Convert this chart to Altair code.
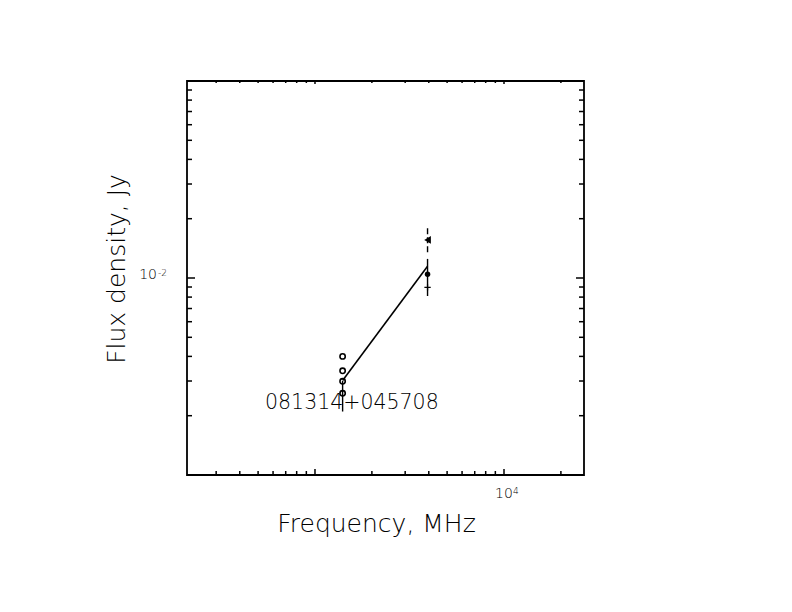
import altair as alt
import pandas as pd

# ---- data ----
open_freq = [1400, 1400, 1400, 1400]
open_flux = [0.0040, 0.00338, 0.00299, 0.0026]

tri_freq = [3940]
tri_flux = [0.0156]
dot_freq = [3940]
dot_flux = [0.01044]
plus_freq = [3940]
plus_flux = [0.00897]

err_solid_freq = [1400, 3940]
err_solid_lo = [0.0021, 0.0081]
err_solid_hi = [0.0030, 0.0125]
err_dash_freq = [3940]
err_dash_lo = [0.0135]
err_dash_hi = [0.0179]

fit_freq = [1400, 3940]
fit_flux = [0.00302, 0.01147]

x_minor = [300, 400, 500, 600, 700, 800, 900, 2000, 3000, 4000, 5000, 6000, 7000, 8000, 9000, 20000]
x_major = [1000, 10000]
y_minor = [0.002, 0.003, 0.004, 0.005, 0.006, 0.007, 0.008, 0.009,
           0.02, 0.03, 0.04, 0.05, 0.06, 0.07, 0.08, 0.09]
y_major = [0.01]

source_name = "081314+045708"
x_title = "Frequency, MHz"
y_title = "Flux density, Jy"

W, H = 397, 394
FONT = "DejaVu Sans"
FW = 200

xs = alt.Scale(type="log", domain=[210.3, 26500], nice=False)
ys = alt.Scale(type="log", domain=[0.001, 0.1], nice=False)

X = lambda f: alt.X(f, type="quantitative", scale=xs, axis=None)
Y = lambda f: alt.Y(f, type="quantitative", scale=ys, axis=None)

df_open = pd.DataFrame({"f": open_freq, "s": open_flux})
df_tri = pd.DataFrame({"f": tri_freq, "s": tri_flux})
df_dot = pd.DataFrame({"f": dot_freq, "s": dot_flux})
df_plus = pd.DataFrame({"f": plus_freq, "s": plus_flux})
df_es = pd.DataFrame({"f": err_solid_freq, "lo": err_solid_lo, "hi": err_solid_hi})
df_ed = pd.DataFrame({"f": err_dash_freq, "lo": err_dash_lo, "hi": err_dash_hi})
df_fit = pd.DataFrame({"f": fit_freq, "s": fit_flux})
df_xmin = pd.DataFrame({"v": x_minor})
df_xmaj = pd.DataFrame({"v": x_major})
df_ymin = pd.DataFrame({"v": y_minor})
df_ymaj = pd.DataFrame({"v": y_major})
one = pd.DataFrame({"a": [0]})

layers = []

# frame
layers.append(alt.Chart(one).mark_rect(fill=None, stroke="black", strokeWidth=1.8).encode(
    x=alt.value(0), x2=alt.value(W), y=alt.value(0), y2=alt.value(H)))

# ticks (inside, all four sides)
def xticks(df, blen, tlen):
    return [
        alt.Chart(df).mark_rule(color="black", strokeWidth=1.5).encode(
            x=X("v"), y=alt.value(H), y2=alt.value(H - blen)),
        alt.Chart(df).mark_rule(color="black", strokeWidth=1.5).encode(
            x=X("v"), y=alt.value(0), y2=alt.value(tlen)),
    ]

def yticks(df, llen, rlen):
    return [
        alt.Chart(df).mark_rule(color="black", strokeWidth=1.5).encode(
            y=Y("v"), x=alt.value(0), x2=alt.value(llen)),
        alt.Chart(df).mark_rule(color="black", strokeWidth=1.5).encode(
            y=Y("v"), x=alt.value(W), x2=alt.value(W - rlen)),
    ]

layers += xticks(df_xmin, 4, 2)
layers += xticks(df_xmaj, 6, 3)
layers += yticks(df_ymin, 5, 5)
layers += yticks(df_ymaj, 8, 8)

# fit line
layers.append(alt.Chart(df_fit).mark_line(color="black", strokeWidth=1.6).encode(
    x=X("f"), y=Y("s")))

# error bars
layers.append(alt.Chart(df_es).mark_rule(color="black", strokeWidth=1.4).encode(
    x=X("f"), y=Y("lo"), y2="hi"))
layers.append(alt.Chart(df_ed).mark_rule(color="black", strokeWidth=1.4, strokeDash=[6, 3]).encode(
    x=X("f"), y=Y("lo"), y2="hi"))

# markers
layers.append(alt.Chart(df_open).mark_point(shape="circle", filled=False, color="black",
                                            size=28, strokeWidth=1.6, opacity=1).encode(
    x=X("f"), y=Y("s")))
layers.append(alt.Chart(df_tri).mark_point(shape="triangle-left", filled=True, color="black",
                                           size=60, opacity=1).encode(
    x=X("f"), y=Y("s")))
layers.append(alt.Chart(df_dot).mark_point(shape="circle", filled=True, color="black",
                                           size=30, opacity=1).encode(
    x=X("f"), y=Y("s")))
layers.append(alt.Chart(df_plus).mark_point(shape="M-1,0L1,0M0,-1L0,1", filled=False, color="black",
                                            size=40, strokeWidth=1.2, opacity=1).encode(
    x=X("f"), y=Y("s")))

# tick labels with superscripts
layers.append(alt.Chart(df_xmaj.iloc[[1]]).mark_text(font=FONT, fontWeight=FW, fontSize=14, align="center",
                                                     baseline="middle", color="black").encode(
    x=X("v"), y=alt.value(H + 19), text=alt.value("10")))
layers.append(alt.Chart(df_xmaj.iloc[[1]]).mark_text(font=FONT, fontWeight=FW, fontSize=9, align="left",
                                                     baseline="middle", color="black", dx=9).encode(
    x=X("v"), y=alt.value(H + 16), text=alt.value("4")))
layers.append(alt.Chart(df_ymaj).mark_text(font=FONT, fontWeight=FW, fontSize=14, align="right",
                                           baseline="middle", color="black", dy=-3).encode(
    y=Y("v"), x=alt.value(-30), text=alt.value("10")))
layers.append(alt.Chart(df_ymaj).mark_text(font=FONT, fontWeight=FW, fontSize=9, align="left",
                                           baseline="middle", color="black", dy=-5).encode(
    y=Y("v"), x=alt.value(-29), text=alt.value("-2")))

# source label
layers.append(alt.Chart(one).mark_text(font=FONT, fontWeight=FW, fontSize=20.5, align="left",
                                       baseline="middle", color="black").encode(
    x=alt.value(265 - 187), y=alt.value(403 - 81), text=alt.value(source_name)))

# axis titles
layers.append(alt.Chart(one).mark_text(font=FONT, fontWeight=FW, fontSize=25, align="center",
                                       baseline="middle", color="black").encode(
    x=alt.value(376.5 - 187), y=alt.value(524 - 81), text=alt.value(x_title)))
layers.append(alt.Chart(one).mark_text(font=FONT, fontWeight=FW, fontSize=25, align="center",
                                       baseline="middle", color="black", angle=270).encode(
    x=alt.value(117 - 187), y=alt.value(269 - 81), text=alt.value(y_title)))

chart = alt.layer(*layers).properties(
    width=W, height=H,
    background="white",
    autosize=alt.AutoSizeParams(type="none"),
    padding={"left": 179, "top": 73, "right": 776 - 179 - W, "bottom": 596 - 73 - H},
).configure_view(stroke=None)

chart.save("out.html", embed_options={"renderer": "svg", "actions": False})
